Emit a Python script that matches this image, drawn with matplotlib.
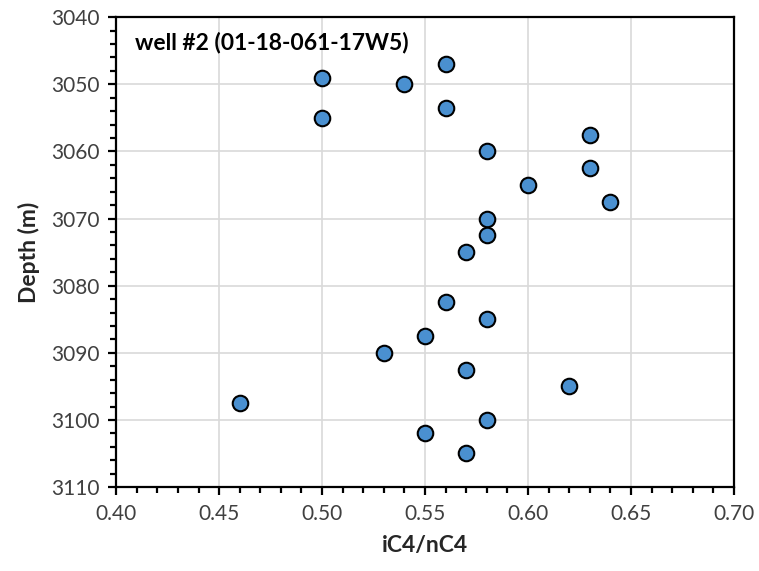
import matplotlib
matplotlib.use("Agg")
import matplotlib.pyplot as plt
from matplotlib.ticker import MultipleLocator, FormatStrFormatter

plt.rcParams['font.family'] = ['Lato', 'DejaVu Sans']

# iC4/nC4 ratio versus depth
ratio = [0.56, 0.50, 0.54, 0.56, 0.50, 0.63, 0.58, 0.63, 0.60, 0.64, 0.58, 0.58,
         0.57, 0.56, 0.58, 0.55, 0.53, 0.57, 0.62, 0.46, 0.58, 0.55, 0.57]
depth = [3047.0, 3049.0, 3050.0, 3053.5, 3055.0, 3057.5, 3060.0, 3062.5, 3065.0,
         3067.5, 3070.0, 3072.5, 3075.0, 3082.5, 3085.0, 3087.5, 3090.0, 3092.5,
         3095.0, 3097.5, 3100.0, 3102.0, 3105.0]
title = "well #2 (01-18-061-17W5)"

fig = plt.figure(figsize=(7.59, 5.71), dpi=100)
ax = fig.add_axes([0.153, 0.147, 0.814, 0.823])

ax.scatter(ratio, depth, s=125, c='#4A90D0', edgecolors='black',
           linewidths=1.5, zorder=3, clip_on=False)

ax.set_xlim(0.40, 0.70)
ax.set_ylim(3110, 3040)
ax.xaxis.set_major_locator(MultipleLocator(0.05))
ax.xaxis.set_minor_locator(MultipleLocator(0.01))
ax.yaxis.set_major_locator(MultipleLocator(10))
ax.yaxis.set_minor_locator(MultipleLocator(2))
ax.xaxis.set_major_formatter(FormatStrFormatter('%.2f'))

ax.grid(True, which='major', color='#d9d9d9', linewidth=1.2, zorder=0)
ax.set_axisbelow(True)

for sp in ax.spines.values():
    sp.set_linewidth(1.6)
    sp.set_color('black')

ax.tick_params(axis='both', which='major', direction='out', length=6, width=1.6,
               labelsize=15, colors='black', labelcolor='#404040', pad=6)
ax.tick_params(axis='both', which='minor', direction='out', length=4, width=1.6,
               colors='black')
ax.tick_params(axis='x', which='both', top=False)
ax.tick_params(axis='y', which='both', right=False)

ax.set_xlabel('iC4/nC4', fontsize=16.5, fontweight='bold', color='#262626', labelpad=8)
ax.set_ylabel('Depth (m)', fontsize=16.5, fontweight='bold', color='#262626', labelpad=8)

ax.text(0.03, 0.945, title, transform=ax.transAxes, fontsize=16.5,
        fontweight='bold', color='black', va='center', ha='left')

fig.savefig('out.png', dpi=100)
